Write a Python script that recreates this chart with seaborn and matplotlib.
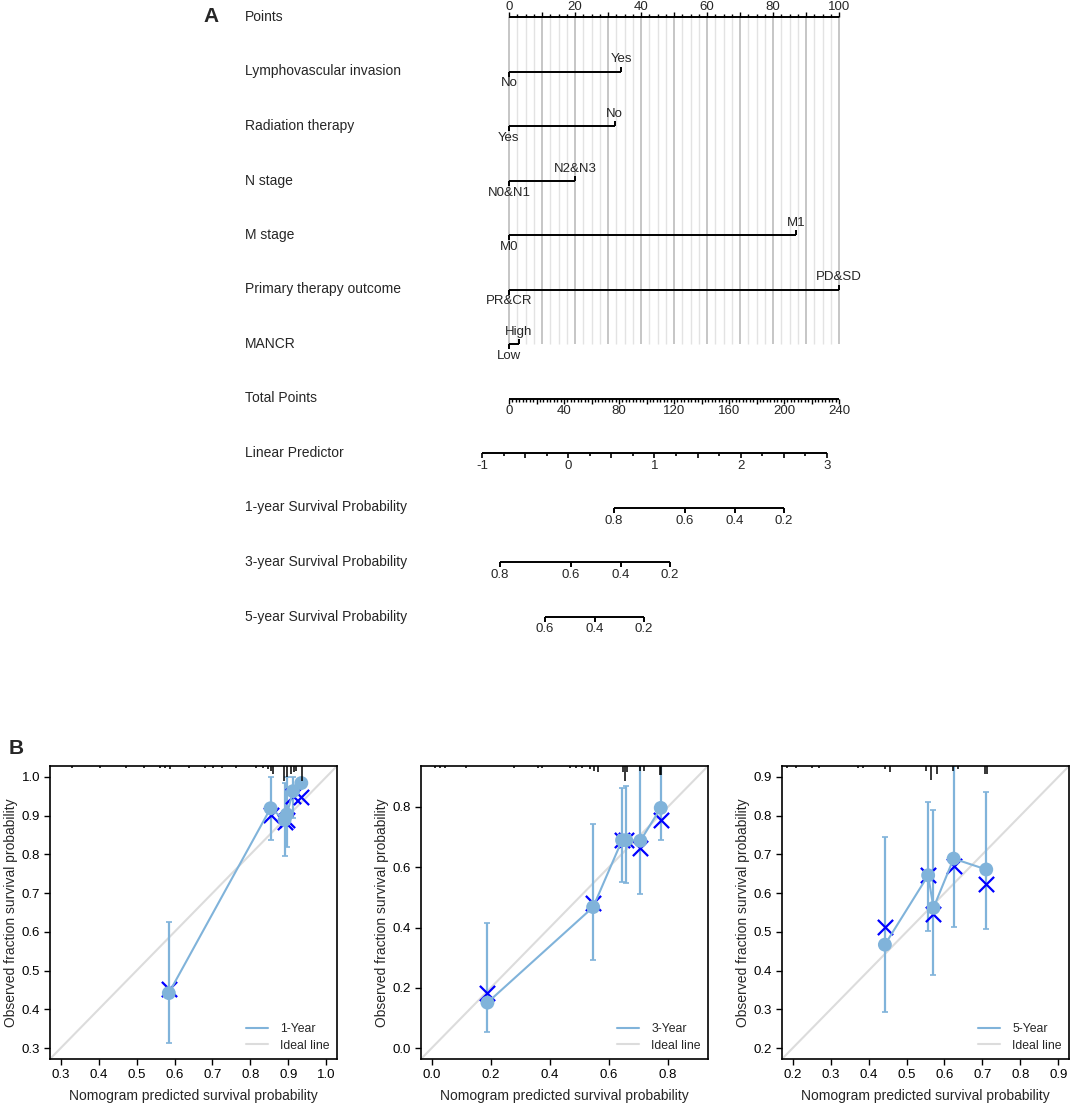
import numpy as np
import pandas as pd
import matplotlib
matplotlib.use("Agg")
import matplotlib.pyplot as plt
import seaborn as sns
from matplotlib.lines import Line2D
from matplotlib.ticker import FormatStrFormatter

# ---- panel A: nomogram ----
row_names = ["Points", "Lymphovascular invasion", "Radiation therapy", "N stage",
             "M stage", "Primary therapy outcome", "MANCR", "Total Points",
             "Linear Predictor", "1-year Survival Probability",
             "3-year Survival Probability", "5-year Survival Probability"]

var_low = ["No", "Yes", "N0&N1", "M0", "PR&CR", "Low"]
var_high = ["Yes", "No", "N2&N3", "M1", "PD&SD", "High"]
var_points = [34, 32, 20, 87, 100, 3]

points_ticks = [0, 20, 40, 60, 80, 100]
total_ticks = [0, 40, 80, 120, 160, 200, 240]
total_max = 240
lp_ticks = [-1, 0, 1, 2, 3]
lp_total_at0 = 43.1      # total points where linear predictor = 0
lp_total_per_unit = 62.7

surv1_labels = ["0.8", "0.6", "0.4", "0.2"]
surv1_total = [76.4, 128.0, 164.3, 200.0]
surv3_labels = ["0.8", "0.6", "0.4", "0.2"]
surv3_total = [-6.5, 45.1, 81.5, 117.1]
surv5_labels = ["0.6", "0.4", "0.2"]
surv5_total = [26.2, 62.5, 98.2]

# ---- panel B: calibration curves ----
cal1_pred = [0.585, 0.853, 0.890, 0.896, 0.912, 0.934]
cal1_obs = [0.442, 0.919, 0.889, 0.903, 0.963, 0.984]
cal1_lo = [0.314, 0.836, 0.797, 0.820, 0.894, 0.978]
cal1_hi = [0.625, 1.000, 0.985, 1.000, 1.000, 0.990]
cal1_km = [0.452, 0.902, 0.884, 0.888, 0.951, 0.947]
rug1_x = [0.33, 0.403, 0.473, 0.52, 0.561, 0.574, 0.587, 0.639, 0.68, 0.701, 0.724,
          0.762, 0.815, 0.832, 0.846, 0.853, 0.859, 0.889, 0.895, 0.907, 0.914,
          0.920, 0.935]
rug1_n = [1, 1, 1, 1, 1, 1, 2, 1, 1, 1, 1, 1, 1, 1, 2, 3, 5, 10, 7, 5, 4, 3, 10]

cal3_pred = [0.189, 0.547, 0.645, 0.659, 0.707, 0.776]
cal3_obs = [0.151, 0.468, 0.690, 0.690, 0.688, 0.797]
cal3_lo = [0.055, 0.293, 0.552, 0.549, 0.511, 0.690]
cal3_hi = [0.415, 0.744, 0.862, 0.871, 0.990, 0.990]
cal3_km = [0.183, 0.482, 0.692, 0.690, 0.663, 0.758]
rug3_x = [0.01, 0.03, 0.045, 0.115, 0.28, 0.36, 0.375, 0.47, 0.49, 0.51, 0.535,
          0.549, 0.562, 0.649, 0.654, 0.662, 0.705, 0.719, 0.772, 0.778]
rug3_n = [1, 1, 1, 1, 1, 1, 1, 1, 1, 1, 2, 3, 4, 4, 10, 4, 3, 3, 6, 6]

cal5_pred = [0.443, 0.557, 0.571, 0.624, 0.710]
cal5_obs = [0.467, 0.646, 0.562, 0.689, 0.661]
cal5_lo = [0.293, 0.501, 0.389, 0.512, 0.508]
cal5_hi = [0.744, 0.836, 0.814, 0.990, 0.861]
cal5_km = [0.513, 0.646, 0.546, 0.669, 0.624]
rug5_x = [0.185, 0.21, 0.25, 0.27, 0.372, 0.385, 0.443, 0.456, 0.551, 0.564,
          0.579, 0.623, 0.636, 0.707, 0.712]
rug5_n = [1, 1, 1, 1, 1, 1, 2, 4, 3, 9, 5, 3, 2, 5, 5]

sns.set_theme(style="ticks")
plt.rcParams["font.family"] = ["Liberation Sans", "DejaVu Sans"]

W, H = 1072, 1108
fig = plt.figure(figsize=(W / 100, H / 100), dpi=100)

blue = "#80B3DA"
ideal = "#DCDCDC"

# nomogram axes: x in "Points" units, y in pixel rows
axA = fig.add_axes([0, 1 - 660 / H, 1, 660 / H])
axA.set_xlim(-509 / 3.3, (W - 509) / 3.3)
axA.set_ylim(660, 0)
axA.axis("off")

row_y = 17 + 54.5 * np.arange(len(row_names))
lw_ax = 1.4
fs_tick = 9.5


def seg(x0, x1, y0, y1, **kw):
    axA.plot([x0, x1], [y0, y1], color=kw.pop("color", "black"),
             lw=kw.pop("lw", lw_ax), solid_capstyle="butt", **kw)


for name, y in zip(row_names, row_y):
    axA.text(-80, y, name, ha="left", va="center", fontsize=10)

# grid lines
for g in np.arange(0, 100.01, 2.5):
    major = abs(g % 10) < 1e-9
    seg(g, g, row_y[0], row_y[6], color="#C6C6C6" if major else "#E3E3E3",
        lw=1.4 if major else 1.0, zorder=0)

# Points scale
y = row_y[0]
seg(0, 100, y, y)
for t in np.arange(0, 100.01, 2.5):
    seg(t, t, y, y - (5 if abs(t % 10) < 1e-9 else 3), lw=1)
for t in points_ticks:
    axA.text(t, y - 10.5, str(t), ha="center", va="center", fontsize=fs_tick)

# predictor rows
for i, (lo, hi, pts) in enumerate(zip(var_low, var_high, var_points)):
    y = row_y[i + 1]
    seg(0, pts, y, y)
    seg(0, 0, y, y + 5)
    seg(pts, pts, y, y - 5)
    axA.text(0, y + 12, lo, ha="center", va="center", fontsize=fs_tick)
    axA.text(pts, y - 12, hi, ha="center", va="center", fontsize=fs_tick)

f = 100 / total_max

# Total points
y = row_y[7]
seg(0, 100, y, y)
for t in np.arange(0, total_max + 0.01, 2.5):
    seg(t * f, t * f, y, y + (5 if abs(t % 20) < 1e-9 else 3), lw=1)
for t in total_ticks:
    axA.text(t * f, y + 13, str(t), ha="center", va="center", fontsize=fs_tick)

# Linear predictor
y = row_y[8]
lp_x = lambda v: (lp_total_at0 + lp_total_per_unit * v) * f
seg(lp_x(lp_ticks[0]), lp_x(lp_ticks[-1]), y, y)
for v in np.arange(lp_ticks[0], lp_ticks[-1] + 0.01, 0.25):
    seg(lp_x(v), lp_x(v), y, y + (5 if abs(v % 0.5) < 1e-9 else 3), lw=1.2)
for v in lp_ticks:
    axA.text(lp_x(v), y + 13, str(v), ha="center", va="center", fontsize=fs_tick)

# survival probability scales
for row, labs, tots in [(9, surv1_labels, surv1_total),
                        (10, surv3_labels, surv3_total),
                        (11, surv5_labels, surv5_total)]:
    y = row_y[row]
    xs = [t * f for t in tots]
    seg(min(xs), max(xs), y, y)
    for lab, x in zip(labs, xs):
        seg(x, x, y, y + 5)
        axA.text(x, y + 13, lab, ha="center", va="center", fontsize=fs_tick)

fig.text(203 / W, 1 - 16 / H, "A", fontsize=15, fontweight="bold", va="center")
fig.text(9 / W, 1 - 749 / H, "B", fontsize=15, fontweight="bold", va="center")


# calibration panels
def calib(left, pred, obs, lo, hi, km, rug_x, rug_n, lims, ticks, label):
    ax = fig.add_axes([left / W, 1 - 1059 / H, 287 / W, 293 / H])
    pred, obs, lo, hi = map(np.asarray, (pred, obs, lo, hi))
    df = pd.DataFrame({"pred": pred, "obs": obs, "km": km})
    ax.plot(lims, lims, color=ideal, lw=1.5, zorder=1)
    ax.errorbar(pred, obs, yerr=[obs - lo, hi - obs], fmt="none", ecolor=blue,
                elinewidth=1.6, capsize=2.5, capthick=1.2, zorder=2)
    sns.scatterplot(data=df, x="pred", y="km", marker="x", color="#0000FF", s=120,
                    linewidth=1.6, ax=ax, zorder=3)
    sns.lineplot(data=df, x="pred", y="obs", color=blue, lw=1.5, sort=False,
                 estimator=None, ax=ax, zorder=4)
    sns.scatterplot(data=df, x="pred", y="obs", color=blue, s=100, edgecolor="none",
                    ax=ax, zorder=5)
    ax.vlines(rug_x, [1 - n * 0.0052 for n in rug_n], 1,
              transform=ax.get_xaxis_transform(), color="black", lw=1.1, zorder=6)
    ax.set_xlim(lims)
    ax.set_ylim(lims)
    ax.set_xticks(ticks)
    ax.set_yticks(ticks)
    ax.xaxis.set_major_formatter(FormatStrFormatter("%.1f"))
    ax.yaxis.set_major_formatter(FormatStrFormatter("%.1f"))
    ax.tick_params(direction="out", length=4, width=1, labelsize=9.5, colors="black",
                   pad=3)
    for sp in ax.spines.values():
        sp.set_visible(True)
        sp.set_color("black")
        sp.set_linewidth(1.2)
    ax.set_xlabel("Nomogram predicted survival probability", fontsize=10, labelpad=6)
    ax.set_ylabel("Observed fraction survival probability", fontsize=10, labelpad=3)
    ax.legend(handles=[Line2D([], [], color=blue, lw=1.5, label=label),
                       Line2D([], [], color=ideal, lw=1.5, label="Ideal line")],
              loc="lower right", frameon=False, fontsize=8.8, handlelength=1.8,
              handletextpad=1.0, borderaxespad=0.2, labelspacing=0.35)
    return ax


calib(50, cal1_pred, cal1_obs, cal1_lo, cal1_hi, cal1_km, rug1_x, rug1_n,
      (0.272, 1.028), np.arange(0.3, 1.01, 0.1), "1-Year")
calib(421, cal3_pred, cal3_obs, cal3_lo, cal3_hi, cal3_km, rug3_x, rug3_n,
      (-0.036, 0.936), np.arange(0.0, 0.81, 0.2), "3-Year")
calib(782, cal5_pred, cal5_obs, cal5_lo, cal5_hi, cal5_km, rug5_x, rug5_n,
      (0.172, 0.928), np.arange(0.2, 0.91, 0.1), "5-Year")

fig.savefig("out.png", dpi=100)
